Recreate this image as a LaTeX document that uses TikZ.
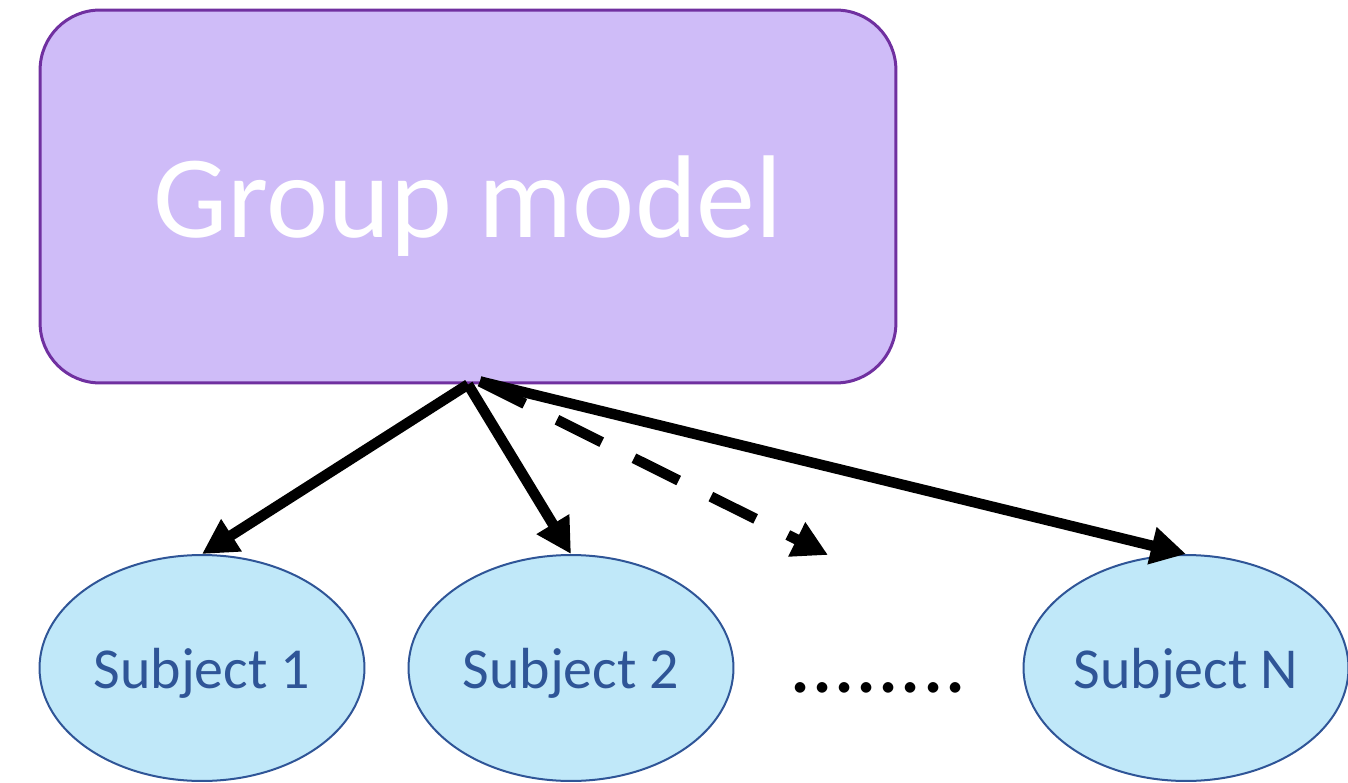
\documentclass[tikz,border=0pt]{standalone}
\usepackage{fontspec}
\setmainfont{Carlito}
\usetikzlibrary{arrows.meta,shapes.geometric,calc}
\definecolor{boxfill}{HTML}{CFBCF8}
\definecolor{boxline}{HTML}{7030A0}
\definecolor{subjfill}{HTML}{C0E8F9}
\definecolor{subjline}{HTML}{2F5597}
\tikzset{
  groupbox/.style={draw=boxline, fill=boxfill, line width=0.06cm, rounded corners=1.2cm,
    minimum width=17.12cm, minimum height=7.46cm, inner sep=0pt, text depth=0pt,
    text=white, font=\fontsize{67pt}{70pt}\selectfont},
  subject/.style={ellipse, draw=subjline, fill=subjfill, line width=0.04cm,
    minimum width=6.5cm, minimum height=4.52cm, inner sep=0pt, text depth=0pt,
    text=subjline, font=\fontsize{33pt}{36pt}\selectfont},
  link/.style={line width=0.21cm, -{Triangle[length=0.7cm,width=0.72cm]}},
  maybelink/.style={link, dash pattern=on 1.0cm off 0.72cm}
}
\begin{document}
\begin{tikzpicture}[x=0.02cm, y=-0.02cm]
  \useasboundingbox (0,0) rectangle (1348,783);
  % group-level model
  \node[groupbox] (group) at (468,196.5) {Group model};
  % subject-level models
  \node[subject] (s1) at (202,668) {Subject 1};
  \node[subject] (s2) at (571,668) {Subject 2};
  \node[subject] (sN) at (1186,668) {Subject N};
  \node[font=\fontsize{50pt}{52pt}\selectfont, anchor=base] (dots) at (878,692) {........};
  % arrows from the group model to each subject
  \coordinate (fork) at ($(group.south)+(12,-3)$);
  \coordinate (gap) at (828,555);
  \draw[link] (group.south) -- (s1.north);
  \draw[link] (group.south) -- (s2.north);
  \draw[maybelink] (fork) -- (gap);
  \draw[link] (fork) -- (sN.north);
\end{tikzpicture}
\end{document}
